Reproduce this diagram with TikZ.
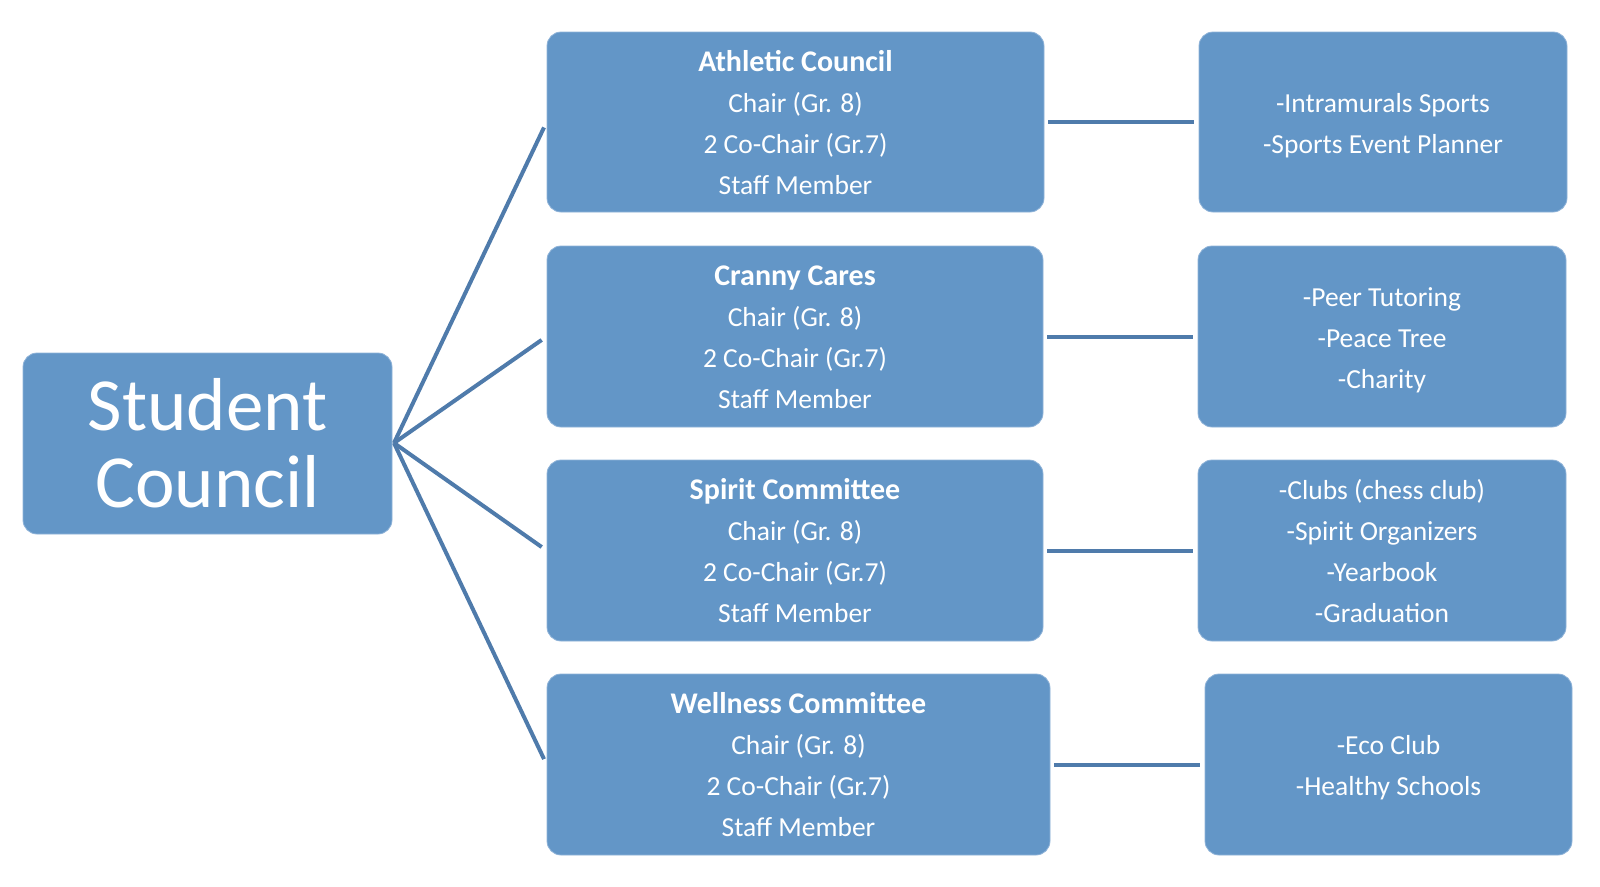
\documentclass[tikz,border=0pt]{standalone}
\usepackage{fontspec}
\setmainfont{Carlito}
\definecolor{boxfill}{HTML}{6396C7}
\definecolor{boxedge}{HTML}{8FB3D8}
\definecolor{linecol}{HTML}{4F7BAB}
\newcommand\boxlines[1]{\raisebox{-2.5pt}[\height][\depth]{\begin{tabular}{@{}c@{}}#1\end{tabular}}}
\newcommand\ttl[1]{\textbf{\fontsize{30}{41}\selectfont #1}}
\begin{document}
\begin{tikzpicture}[x=1pt,y=-1pt,
  box/.style={draw=boxedge, line width=0.8pt, fill=boxfill, rounded corners=14pt, inner sep=0pt,
    text=white, align=center, font=\fontsize{27.5}{41}\selectfont},
  conn/.style={draw=linecol, line width=4pt}]
\useasboundingbox (0,0) rectangle (1600,886);
\node[box, minimum width=369pt, minimum height=181pt, font=\fontsize{75}{77}\selectfont] (sc) at (207.5,443.5) {Student\\Council};
\coordinate (hub) at (394,443);
\node[box, minimum width=497pt, minimum height=180pt] (a) at (795.5,122) {\boxlines{\ttl{Athletic Council}\\Chair (Gr. 8)\\2 Co-Chair (Gr.7)\\Staff Member}};
\node[box, minimum width=496pt, minimum height=181pt] (c) at (795,336.5) {\boxlines{\ttl{Cranny Cares}\\Chair (Gr. 8)\\2 Co-Chair (Gr.7)\\Staff Member}};
\node[box, minimum width=496pt, minimum height=181pt] (s) at (795,550.5) {\boxlines{\ttl{Spirit Committee}\\Chair (Gr. 8)\\2 Co-Chair (Gr.7)\\Staff Member}};
\node[box, minimum width=503pt, minimum height=181pt] (w) at (798.5,764.5) {\boxlines{\ttl{Wellness Committee}\\Chair (Gr. 8)\\2 Co-Chair (Gr.7)\\Staff Member}};
\node[box, minimum width=368pt, minimum height=180pt] (r1) at (1383,122) {\boxlines{-Intramurals Sports\\-Sports Event Planner}};
\node[box, minimum width=368pt, minimum height=181pt] (r2) at (1382,336.5) {\boxlines{-Peer Tutoring\\-Peace Tree\\-Charity}};
\node[box, minimum width=368pt, minimum height=181pt] (r3) at (1382,550.5) {\boxlines{-Clubs (chess club)\\-Spirit Organizers\\-Yearbook\\-Graduation}};
\node[box, minimum width=367pt, minimum height=181pt] (r4) at (1388.5,764.5) {\boxlines{-Eco Club\\-Healthy Schools}};
\draw[conn, shorten >=6pt] (hub) -- (a.west);
\draw[conn, shorten >=6pt] (hub) -- (c.west);
\draw[conn, shorten >=6pt] (hub) -- (s.west);
\draw[conn, shorten >=6pt] (hub) -- (w.west);
\draw[conn, shorten <=4pt, shorten >=5pt] (a.east) -- (r1.west);
\draw[conn, shorten <=4pt, shorten >=5pt] (c.east) -- (r2.west);
\draw[conn, shorten <=4pt, shorten >=5pt] (s.east) -- (r3.west);
\draw[conn, shorten <=4pt, shorten >=5pt] (w.east) -- (r4.west);
\end{tikzpicture}
\end{document}
